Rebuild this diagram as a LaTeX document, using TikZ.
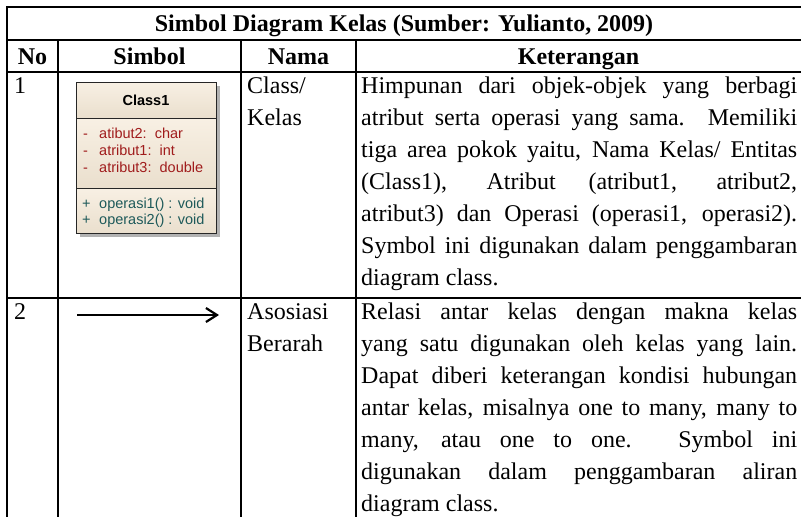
\documentclass[tikz,border=0pt]{standalone}
\usepackage{fontspec}
\setmainfont{Liberation Serif}
\setsansfont{Liberation Sans}
\usetikzlibrary{arrows.meta}
\definecolor{atrmerah}{HTML}{A01C1C}
\definecolor{opshijau}{HTML}{1E5A5A}
\definecolor{krem}{HTML}{F8F0E4}
\definecolor{kremgelap}{HTML}{EADFCD}
\newcommand{\teksrata}{\tolerance=10000\hbadness=10000\hyphenpenalty=10000}
\tikzset{
  sel/.style = {inner sep=0pt, font=\fontsize{24}{32}\selectfont},% teks tabel
  sel_judul/.style = {sel, font=\fontsize{24}{32}\selectfont\bfseries,
    anchor=base},% judul kolom
  sel_isi/.style = {sel, anchor=north west, align=left},% isi sel
  sel_ket/.style = {sel_isi, text width=436pt, align=justify,
    font=\fontsize{24}{32}\selectfont\teksrata},% kolom keterangan
  garis/.style = {line width=2pt, black},% garis tabel
  kls_bag/.style = {rectangle, draw=black!85, line width=0.9pt, inner sep=0pt,
    outer sep=0pt, minimum width=140pt, top color=krem,
    bottom color=kremgelap},% bagian kotak kelas
  kls_teks/.style = {inner sep=0pt, anchor=base west,
    font=\fontsize{14.5}{17}\sffamily},% teks kotak kelas
  panah/.style = {line width=2.2pt,
    -{Straight Barb[length=11pt,width=14pt]}}% asosiasi berarah
}

\begin{document}
\begin{tikzpicture}[x=1pt,y=-1pt]
\useasboundingbox (0,0) rectangle (801,517);
% garis tabel
\draw[garis] (6,7) -- (803,7);
\draw[garis] (6,40) -- (803,40);
\draw[garis] (6,72) -- (803,72);
\draw[garis] (6,298) -- (803,298);
\draw[garis] (7,6) -- (7,519);
\foreach \x in {58,241,356}
  \draw[garis] (\x,40) -- (\x,519);
% judul dan kepala kolom
\node[sel_judul] (judul) at (404,31.5) {Simbol Diagram Kelas (Sumber: Yulianto, 2009)};
\node[sel_judul] (h_no) at (32.5,64) {No};
\node[sel_judul] (h_simbol) at (149.5,64) {Simbol};
\node[sel_judul] (h_nama) at (298.5,64) {Nama};
\node[sel_judul] (h_ket) at (578.5,64) {Keterangan};
% baris 1
\node[sel_isi] (no1) at (14,70.6) {\strut 1};
\node[sel_isi] (nama1) at (247,70.6) {\strut Class/\\Kelas};
\node[sel_ket] (ket1) at (361,70.6) {\strut Himpunan dari objek-objek yang berbagi\linebreak
  atribut serta operasi yang sama. Memiliki\linebreak
  tiga area pokok yaitu, Nama Kelas/ Entitas\linebreak
  (Class1), Atribut (atribut1, atribut2,\linebreak
  atribut3) dan Operasi (operasi1, operasi2).\linebreak
  Symbol ini digunakan dalam penggambaran\linebreak
  diagram class.};
% simbol kelas
\fill[black!30] (80,86) rectangle (220,237);
\node[kls_bag, minimum height=36pt, anchor=north west] (kls_nama) at (76,82) {};
\node[kls_bag, minimum height=70pt, anchor=north] (kls_atr) at (kls_nama.south) {};
\node[kls_bag, minimum height=45pt, anchor=north] (kls_ops) at (kls_atr.south) {};
\node[inner sep=0pt, font=\fontsize{14.5}{17}\sffamily\bfseries] (kls_judul) at (kls_nama.center) {Class1};
\foreach \y in {138,155,172}
  \node[kls_teks, atrmerah] (min\y) at (83,\y) {-};
\foreach \y in {208,224}
  \node[kls_teks, opshijau] (plus\y) at (82,\y) {+};
\node[kls_teks, atrmerah] (atr1) at (99,138) {atibut2:\ \ char};
\node[kls_teks, atrmerah] (atr2) at (99,155) {atribut1:\ \ int};
\node[kls_teks, atrmerah] (atr3) at (99,172) {atribut3:\ \ double};
\node[kls_teks, opshijau] (ops1) at (99,208) {operasi1() : void};
\node[kls_teks, opshijau] (ops2) at (99,224) {operasi2() : void};
% baris 2
\node[sel_isi] (no2) at (14,296.6) {\strut 2};
\coordinate (ekor) at (77,315);
\coordinate (kepala) at (219,315);
\draw[panah] (ekor) -- (kepala);
\node[sel_isi] (nama2) at (247,296.6) {\strut Asosiasi\\Berarah};
\node[sel_ket] (ket2) at (361,296.6) {\strut Relasi antar kelas dengan makna kelas\linebreak
  yang satu digunakan oleh kelas yang lain.\linebreak
  Dapat diberi keterangan kondisi hubungan\linebreak
  antar kelas, misalnya one to many, many to\linebreak
  many, atau one to one. Symbol ini\linebreak
  digunakan dalam penggambaran aliran\linebreak
  diagram class.};
\end{tikzpicture}
\end{document}
